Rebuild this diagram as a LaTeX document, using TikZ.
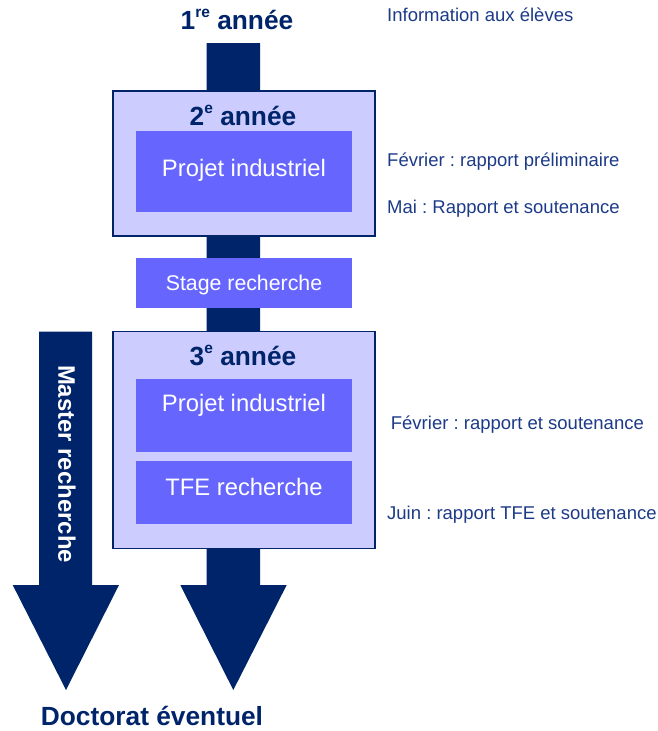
\documentclass[tikz,border=0pt]{standalone}
\usepackage{fontspec}
\setmainfont{Liberation Sans}
\frenchspacing
\definecolor{navy}{HTML}{002469}
\definecolor{notecol}{HTML}{1C3A87}
\definecolor{lightbox}{HTML}{CCCCFF}
\definecolor{innerbox}{HTML}{6666FF}
\newcommand{\supx}[1]{\raisebox{0.42em}{\fontsize{15.5}{16}\selectfont #1}}
\begin{document}
\begin{tikzpicture}[x=1pt,y=-1pt,
  yearbox/.style={draw=navy, line width=1.5pt, fill=lightbox, inner sep=0pt, minimum width=262pt},
  stepbox/.style={fill=innerbox, inner sep=0pt, minimum width=216pt},
  title/.style={text=navy, font=\fontsize{26.3}{30}\selectfont\bfseries, inner sep=0pt, anchor=base},
  whitetxt/.style={text=white, font=\fontsize{23.8}{28}\selectfont, inner sep=0pt, anchor=base},
  note/.style={text=notecol, font=\fontsize{18.5}{22}\selectfont, anchor=base west, inner sep=0pt}
]
\useasboundingbox (0,0) rectangle (658,731);
% main arrow
\fill[navy] (206.7,43) -- (260,43) -- (260,585) -- (286.7,585) -- (233.3,690)
  -- (180.3,585) -- (206.7,585) -- cycle;
% left arrow
\fill[navy] (39,331.7) -- (92,331.7) -- (92,585) -- (119,585) -- (66,690)
  -- (12.7,585) -- (39,585) -- cycle;
\node[text=white, font=\fontsize{23.9}{28}\selectfont\bfseries, rotate=-90, inner sep=0pt] (master) at (67,464) {Master recherche};

\node[title] (y1) at (237,29) {1\supx{re} année};

% 2e annee
\node[yearbox, minimum height=145pt] (box2) at (244,163.5) {};
\node[title] (y2) at (243,125) {2\supx{e} année};
\node[stepbox, minimum height=81pt] (proj2) at (244,171.5) {};
\node[whitetxt] (proj2t) at (244,176.7) {Projet industriel};

% stage
\node[stepbox, minimum height=50pt] (stage) at (244,283.3) {};
\node[whitetxt, font=\fontsize{21.3}{25}\selectfont] (staget) at (244,290) {Stage recherche};

% 3e annee
\node[yearbox, minimum height=217pt] (box3) at (244,440) {};
\node[title] (y3) at (243,365) {3\supx{e} année};
\node[stepbox, minimum height=73.3pt] (proj3) at (244,415.7) {};
\node[whitetxt] (proj3t) at (244,411.7) {Projet industriel};
\node[stepbox, minimum height=63pt] (tfe) at (244,492.8) {};
\node[whitetxt] (tfet) at (244,495) {TFE recherche};

\node[title] (doc) at (152,725) {Doctorat éventuel};

% notes
\node[note] (n1) at (387,21.7) {Information aux élèves};
\node[note] (n2) at (387,166.7) {Février : rapport préliminaire};
\node[note] (n3) at (387,213.3) {Mai : Rapport et soutenance};
\node[note] (n4) at (390.7,429.3) {Février : rapport et soutenance};
\node[note] (n5) at (387,519) {Juin : rapport TFE et soutenance};
\end{tikzpicture}
\end{document}
